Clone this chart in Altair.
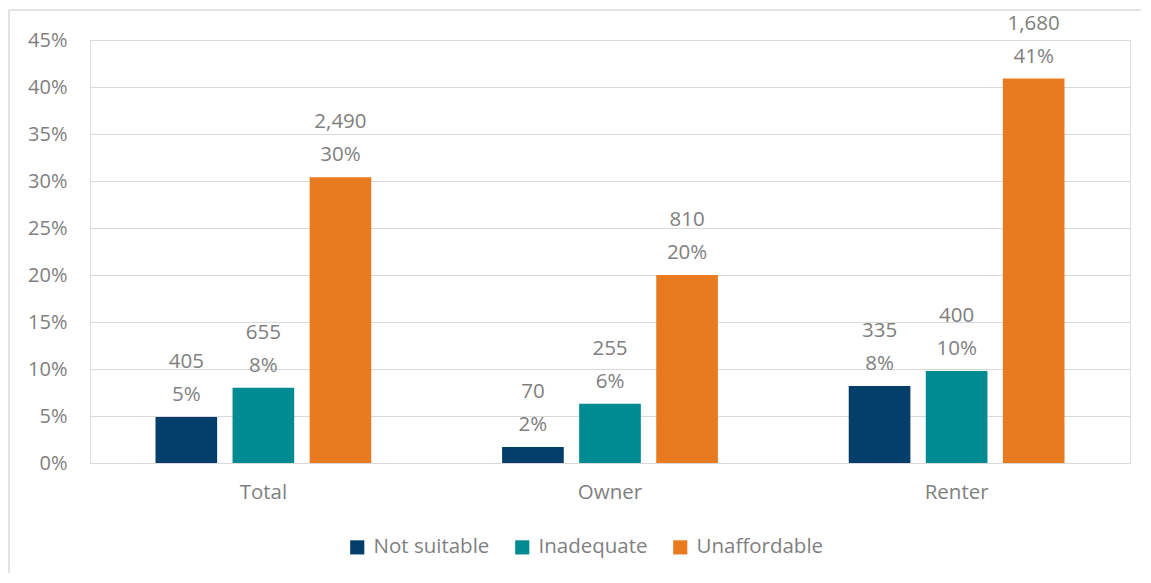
import altair as alt
import pandas as pd

categories = ["Total", "Owner", "Renter"]
series = ["Not suitable", "Inadequate", "Unaffordable"]
colors = ["#043E6A", "#008A91", "#E87B20"]

# share of households (fraction) per category, per series
not_suitable = [0.049, 0.017, 0.082]
inadequate = [0.080, 0.063, 0.098]
unaffordable = [0.304, 0.200, 0.409]

count_not_suitable = ["405", "70", "335"]
count_inadequate = ["655", "255", "400"]
count_unaffordable = ["2,490", "810", "1,680"]

pct_not_suitable = ["5%", "2%", "8%"]
pct_inadequate = ["8%", "6%", "10%"]
pct_unaffordable = ["30%", "20%", "41%"]

y_ticks = [0, 0.05, 0.10, 0.15, 0.20, 0.25, 0.30, 0.35, 0.40, 0.45]

rows = []
for s, vals, cnts, pcts in [
    (series[0], not_suitable, count_not_suitable, pct_not_suitable),
    (series[1], inadequate, count_inadequate, pct_inadequate),
    (series[2], unaffordable, count_unaffordable, pct_unaffordable),
]:
    for c, v, n, p in zip(categories, vals, cnts, pcts):
        rows.append({"category": c, "series": s, "value": v, "count": n, "pct": p})
df = pd.DataFrame(rows)

FONT = "Open Sans"
GRAY = "#7F7F7F"
FS = 20.5

x_enc = alt.X(
    "category:N",
    sort=categories,
    scale=alt.Scale(paddingInner=0.333, paddingOuter=0.1667),
    axis=alt.Axis(title=None, labelAngle=0, ticks=False, domain=False,
                  labelPadding=19, labelFontSize=FS, labelColor=GRAY, labelFont=FONT),
)
xo_enc = alt.XOffset("series:N", sort=series,
                     scale=alt.Scale(paddingInner=0.2, paddingOuter=0.1))
y_enc = alt.Y(
    "value:Q",
    scale=alt.Scale(domain=[0, 0.45]),
    axis=alt.Axis(title=None, format=".0%", values=y_ticks, domain=False, ticks=False,
                  gridColor="#D9D9D9", gridWidth=1.2, labelPadding=23,
                  labelFontSize=20, labelColor=GRAY, labelFont=FONT),
)

base = alt.Chart(df)

bars = base.mark_bar().encode(
    x=x_enc,
    xOffset=xo_enc,
    y=y_enc,
    color=alt.Color(
        "series:N",
        sort=series,
        scale=alt.Scale(domain=series, range=colors),
        legend=alt.Legend(orient="none", legendX=257, legendY=497, direction="horizontal",
                          title=None, symbolType="square", symbolSize=200,
                          symbolStrokeWidth=0, labelFontSize=FS, labelColor=GRAY,
                          labelFont=FONT, columnPadding=22, labelOffset=6),
    ),
)

pct_text = base.mark_text(dy=-16, baseline="alphabetic", fontSize=FS, color=GRAY,
                          font=FONT).encode(
    x=alt.X("category:N", sort=categories), xOffset=alt.XOffset("series:N", sort=series),
    y="value:Q", text="pct:N")

cnt_text = base.mark_text(dy=-49, baseline="alphabetic", fontSize=FS, color=GRAY,
                          font=FONT).encode(
    x=alt.X("category:N", sort=categories), xOffset=alt.XOffset("series:N", sort=series),
    y="value:Q", text="count:N")

frame_df = pd.DataFrame({"k": [0]})
top_line = alt.Chart(frame_df).mark_rule(color="#D9D9D9", strokeWidth=1.5).encode(
    x=alt.value(-81), x2=alt.value(1060), y=alt.value(-30))
left_line = alt.Chart(frame_df).mark_rule(color="#D9D9D9", strokeWidth=1.5).encode(
    x=alt.value(-81), y=alt.value(-30), y2=alt.value(545))

chart = alt.layer(top_line, left_line, bars, pct_text, cnt_text).properties(
    width=1040,
    height=423,
    autosize=alt.AutoSizeParams(type="none"),
    padding={"left": 82, "top": 32, "right": 11, "bottom": 110},
).configure_view(stroke=None).configure(font=FONT)

chart.save("out.html", embed_options={"renderer": "svg", "actions": False})
